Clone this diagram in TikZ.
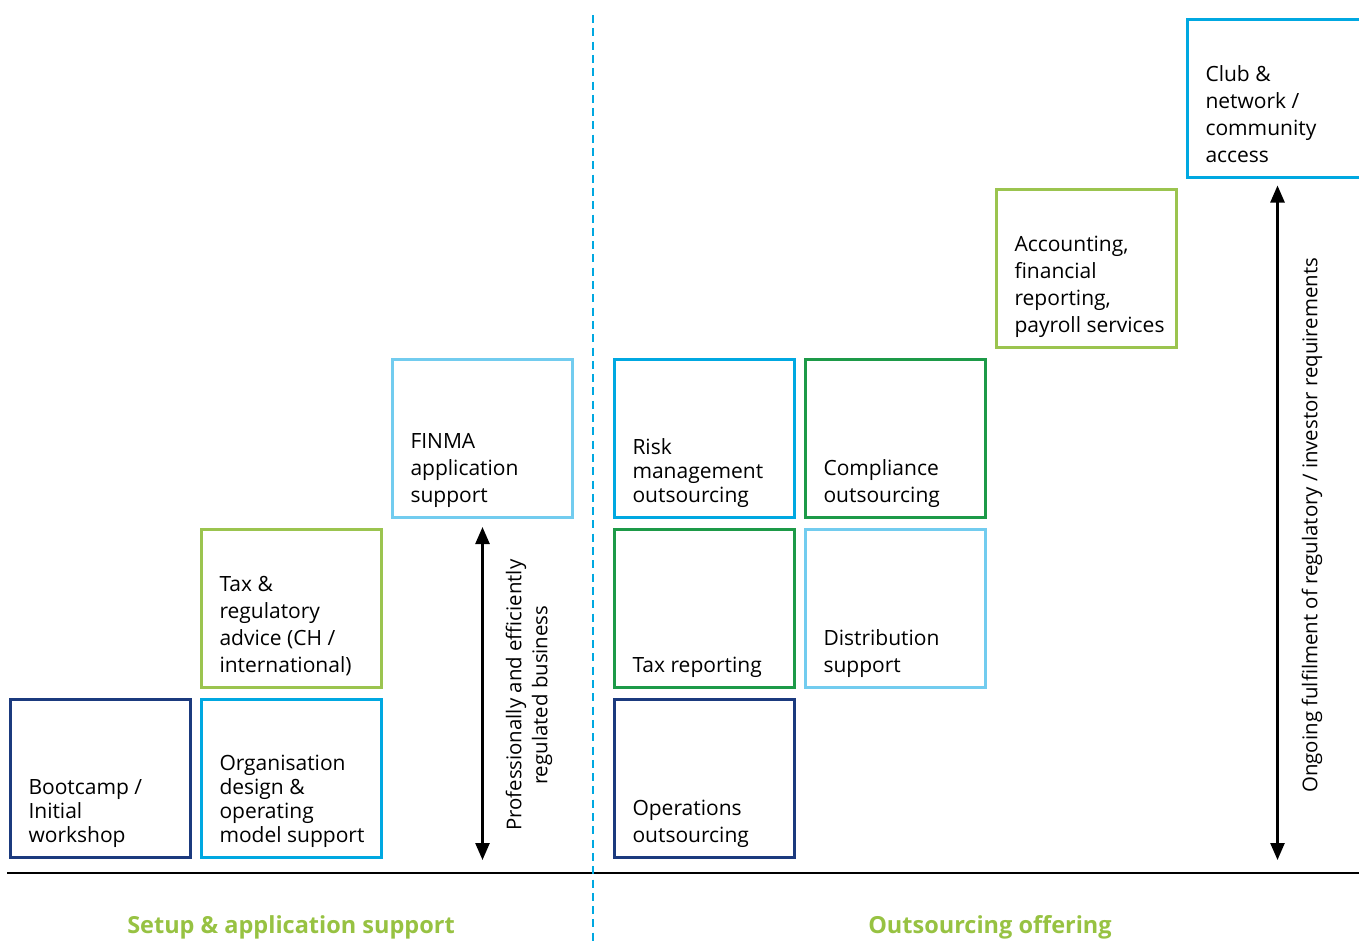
\documentclass[tikz,border=0pt]{standalone}
\usepackage{fontspec}
\setmainfont{Open Sans}
\usetikzlibrary{positioning, arrows.meta}
\definecolor{navy}{HTML}{1B3A7E}
\definecolor{cyan}{HTML}{00A8E1}
\definecolor{lightblue}{HTML}{72CCEF}
\definecolor{lightgreen}{HTML}{9BC44F}
\definecolor{darkgreen}{HTML}{1D9A48}
\definecolor{titlegreen}{HTML}{97C242}

\tikzset{
  tile/.style={draw=#1, line width=3.5pt, minimum width=180pt, minimum height=158pt,
    inner sep=0pt, outer sep=0pt, font={\fontsize{21}{27}\selectfont}},
  tight/.style={font={\fontsize{21}{24}\selectfont}},
  dblarrow/.style={{Triangle[length=17pt,width=14pt]}-{Triangle[length=17pt,width=14pt]}, line width=2.5pt},
  sidelabel/.style={rotate=90, anchor=north, inner sep=0pt, align=center, font={\fontsize{20.4}{26}\selectfont}},
  section/.style={text=titlegreen, font={\fontsize{23.5}{28}\selectfont\bfseries}}
}
\newcommand{\tiletext}[1]{\makebox[144pt][l]{\parbox[c][136pt][b]{175pt}{\raggedright #1\strut}}}

\begin{document}
\begin{tikzpicture}[x=1pt, y=-1pt, node distance=12pt and 11pt]
  \useasboundingbox (0,0) rectangle (1359,943);

  % setup side
  \node[tile=navy, tight] (boot) at (100.5,778.5) {\tiletext{Bootcamp /\\Initial\\workshop}};
  \node[tile=cyan, tight, right=of boot] (org) {\tiletext{Organisation\\design \&\\operating\\model support}};
  \node[tile=lightgreen, above=of org] (taxreg) {\tiletext{Tax \&\\regulatory\\advice (CH /\\international)}};
  \node[tile=lightblue, above right=of taxreg] (finma) {\tiletext{FINMA\\application\\support}};

  % outsourcing side
  \node[tile=cyan, tight, right=42pt of finma] (risk) {\tiletext{Risk\\management\\outsourcing}};
  \node[tile=darkgreen, right=of risk] (compl) {\tiletext{Compliance\\outsourcing}};
  \node[tile=darkgreen, below=of risk] (taxrep) {\tiletext{Tax reporting}};
  \node[tile=lightblue, below=of compl] (distr) {\tiletext{Distribution\\support}};
  \node[tile=navy, below=of taxrep] (ops) {\tiletext{Operations\\outsourcing}};
  \node[tile=lightgreen, above right=of compl] (acct) {\tiletext{Accounting,\\financial\\reporting,\\payroll services}};
  \node[tile=cyan, above right=of acct] (club) {\tiletext{Club \&\\network /\\community\\access}};

  % base line and divider
  \coordinate (bl) at (7,873);
  \coordinate (br) at (1359,873);
  \draw[line width=1.3pt] (bl) -- (br);
  \coordinate (dtop) at (593,15);
  \coordinate (dbot) at (593,943);
  \draw[cyan, line width=2.5pt, dash pattern=on 8pt off 5.3pt] (dtop) -- (dbot);

  % arrows
  \draw[dblarrow, shorten <=9.5pt, shorten >=13pt] (finma.south) -- (finma.south |- bl)
    coordinate[midway] (lmid);
  \node[sidelabel] (lnote) at ([xshift=23pt]lmid) {Professionally and efficiently\\regulated business};
  \draw[dblarrow, shorten <=8pt, shorten >=13pt] (club.south) -- (club.south |- br)
    coordinate[midway] (rmid);
  \node[sidelabel] (rnote) at ([xshift=24pt]rmid) {Ongoing fulfilment of regulatory / investor requirements};

  % section titles
  \node[section] (setup) at (291,927) {Setup \& application support};
  \node[section] (outs) at (990,927) {Outsourcing offering};
\end{tikzpicture}
\end{document}
